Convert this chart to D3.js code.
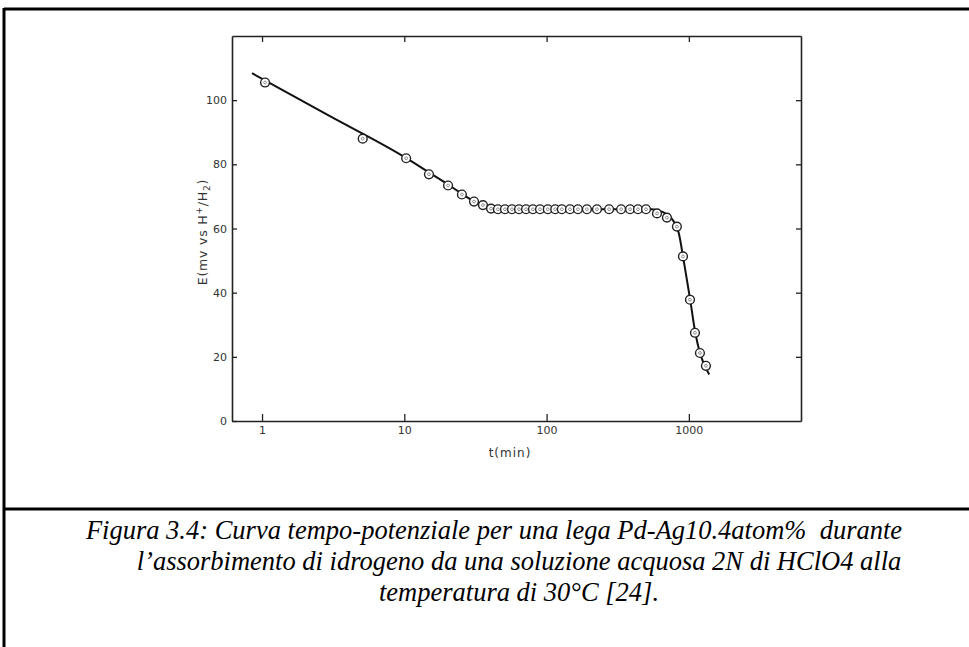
<!DOCTYPE html>
<html>
<head>
<meta charset="utf-8">
<script src="https://cdn.jsdelivr.net/npm/d3@7"></script>
<style>
  html, body { margin: 0; padding: 0; background: #fff; }
  svg { display: block; }
</style>
</head>
<body>
<div id="chart"></div>
<script>
// measured points: time (min) and potential (mV vs H+/H2)
const timeMin = [1.05, 5.1, 10.3, 14.9, 20.3, 25.4, 30.9, 35.7, 40.7, 45.5, 51, 57.1, 64, 71.7,
  80.2, 89.9, 102, 115, 128, 146, 166, 192, 226, 275, 334, 386, 439, 500, 597,
  701, 824, 909, 1018, 1104, 1196, 1318];
const potential = [105.5, 88, 81.9, 76.9, 73.4, 70.6, 68.4, 67.3, 66.2, 66, 66, 66, 66, 66,
  66, 66, 66, 66, 66, 66, 66, 66, 66, 66, 66, 66, 66, 66, 64.7,
  63.4, 60.6, 51.3, 37.8, 27.5, 21.2, 17.2];

// hand-drawn fitted curve through the points
const curveT = [0.85, 3, 10, 15, 20, 25, 30, 36, 45, 60, 550, 650, 760, 850, 920, 1020, 1110, 1200, 1390];
const curveE = [108.4, 95, 82.3, 77.4, 73.9, 71, 68.8, 67.2, 66.2, 66, 66, 65.2, 63, 58.5, 50, 38, 27.5, 21, 14.5];

const yTicks = [0, 20, 40, 60, 80, 100];
const xTicks = [1, 10, 100, 1000];

const captionLines = [
  "Figura 3.4: Curva tempo-potenziale per una lega Pd-Ag10.4atom%  durante",
  "l\u2019assorbimento di idrogeno da una soluzione acquosa 2N di HClO4 alla",
  "temperatura di 30\u00b0C [24]."
];
const captionCenter = [494, 519, 519];

const W = 969, H = 647;
const plot = { left: 232, right: 801, top: 36, bottom: 421 };

const svg = d3.select('#chart').append('svg')
  .attr('width', W)
  .attr('height', H);

svg.append('rect').attr('width', W).attr('height', H).attr('fill', '#fff');

// frame of the figure box
svg.append('line').attr('x1', 4).attr('x2', W).attr('y1', 9).attr('y2', 9)
  .attr('stroke', '#000').attr('stroke-width', 3);
svg.append('line').attr('x1', 4).attr('x2', 4).attr('y1', 8).attr('y2', H)
  .attr('stroke', '#000').attr('stroke-width', 3);
svg.append('line').attr('x1', 4).attr('x2', W).attr('y1', 509).attr('y2', 509)
  .attr('stroke', '#000').attr('stroke-width', 3);

const x = d3.scaleLog()
  .domain([0.615, 6140])
  .range([plot.left, plot.right]);

const y = d3.scaleLinear()
  .domain([0, 120])
  .range([plot.bottom, plot.top]);

const tickFont = 'DejaVu Sans, sans-serif';

// axes: ticks point inward like the original
const gLeft = svg.append('g')
  .attr('transform', `translate(${plot.left},0)`)
  .call(d3.axisLeft(y).tickValues(yTicks).tickSizeInner(-5).tickSizeOuter(0).tickPadding(5));

const gRight = svg.append('g')
  .attr('transform', `translate(${plot.right},0)`)
  .call(d3.axisRight(y).tickValues(yTicks.slice(1)).tickSizeInner(-5).tickSizeOuter(0).tickFormat(''));

const gBottom = svg.append('g')
  .attr('transform', `translate(0,${plot.bottom})`)
  .call(d3.axisBottom(x).tickValues(xTicks).tickSizeInner(-7).tickSizeOuter(0)
    .tickPadding(5).tickFormat(d3.format('d')));

const gTop = svg.append('g')
  .attr('transform', `translate(0,${plot.top})`)
  .call(d3.axisTop(x).tickValues(xTicks).tickSizeInner(-6).tickSizeOuter(0).tickFormat(''));

[gLeft, gRight, gBottom, gTop].forEach(g => {
  g.select('.domain').attr('stroke', '#222').attr('stroke-width', 1.6);
  g.selectAll('.tick line').attr('stroke', '#222').attr('stroke-width', 1.3);
  g.selectAll('.tick text')
    .attr('fill', '#333')
    .style('font-family', tickFont)
    .style('font-size', '11px');
});

// axis titles
svg.append('text')
  .attr('transform', 'translate(207,232) rotate(-90)')
  .attr('text-anchor', 'middle')
  .style('font-family', tickFont)
  .style('font-size', '12.5px')
  .style('letter-spacing', '0.8px')
  .attr('fill', '#333')
  .html('E(mv vs H<tspan dy="-5" font-size="9">+</tspan><tspan dy="5">/H</tspan><tspan dy="3" font-size="9">2</tspan><tspan dy="-3">)</tspan>');

svg.append('text')
  .attr('x', 510)
  .attr('y', 457)
  .attr('text-anchor', 'middle')
  .style('font-family', tickFont)
  .style('font-size', '12px')
  .style('letter-spacing', '1px')
  .attr('fill', '#333')
  .text('t(min)');

// fitted curve
const line = d3.line()
  .x(d => x(d[0]))
  .y(d => y(d[1]))
  .curve(d3.curveMonotoneX);

svg.append('path')
  .datum(curveT.map((t, i) => [t, curveE[i]]))
  .attr('d', line)
  .attr('fill', 'none')
  .attr('stroke', '#111')
  .attr('stroke-width', 2);

// data markers
const pts = svg.append('g')
  .selectAll('g')
  .data(timeMin.map((t, i) => [t, potential[i]]))
  .join('g')
  .attr('transform', d => `translate(${x(d[0])},${y(d[1])})`);

pts.append('circle')
  .attr('r', 4.4)
  .attr('fill', '#fff')
  .attr('stroke', '#222')
  .attr('stroke-width', 1.4);

pts.append('circle')
  .attr('r', 1.4)
  .attr('fill', 'none')
  .attr('stroke', '#777')
  .attr('stroke-width', 0.8);

// caption
svg.append('g')
  .selectAll('text')
  .data(captionLines)
  .join('text')
  .attr('x', (d, i) => captionCenter[i])
  .attr('y', (d, i) => 539 + i * 31)
  .attr('text-anchor', 'middle')
  .style('white-space', 'pre')
  .style('font-family', 'Liberation Serif, Times New Roman, serif')
  .style('font-style', 'italic')
  .style('font-size', '26.5px')
  .attr('fill', '#000')
  .text(d => d);
</script>
</body>
</html>
